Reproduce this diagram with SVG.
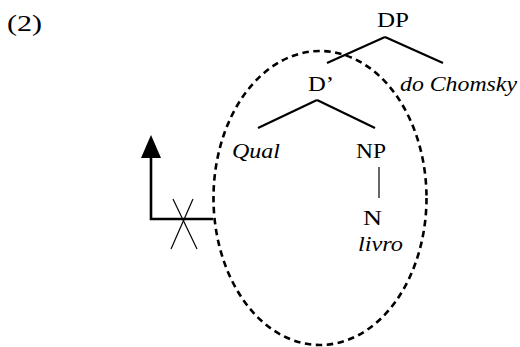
<svg xmlns="http://www.w3.org/2000/svg" width="520" height="347" viewBox="0 0 520 347">
<style>
text{font-family:"Liberation Serif","Times New Roman",serif;font-size:20px;fill:#000}
.it{font-style:italic}
.br{stroke:#000;stroke-width:2.2;fill:none;stroke-linecap:butt}
.thin{stroke:#000;stroke-width:1.2;fill:none}
.dash{stroke:#000;stroke-width:2.6;fill:none;stroke-dasharray:6.5 4.5}
</style>
<rect width="520" height="347" fill="#fff"/>
<text x="7" y="31" style="font-size:23px" textLength="35" lengthAdjust="spacingAndGlyphs">(2)</text>
<g id="connectors">
<line class="br" x1="385" y1="37" x2="327" y2="63"/>
<line class="br" x1="385" y1="37" x2="443" y2="63"/>
<line class="br" x1="317" y1="100" x2="258" y2="128"/>
<line class="br" x1="317" y1="100" x2="375" y2="128"/>
<line class="thin" x1="379" y1="167" x2="379" y2="198"/>
<polyline class="br" points="213,219 151,219 151,155" style="stroke-width:2.6"/>
<path d="M141,158 L151,135 L161,158 Z" fill="#000"/>
<line class="thin" x1="173" y1="199" x2="197" y2="249"/>
<line class="thin" x1="193" y1="199" x2="171" y2="249"/>
</g>
<g id="ellipse"><ellipse class="dash" cx="320" cy="198" rx="106.5" ry="147"/></g>
<g id="DP"><text x="377" y="27" textLength="32" lengthAdjust="spacingAndGlyphs">DP</text></g>
<g id="Dbar"><text x="308" y="91" textLength="26" lengthAdjust="spacingAndGlyphs">D’</text></g>
<g id="doChomsky"><text class="it" x="400" y="91" textLength="117" lengthAdjust="spacingAndGlyphs">do Chomsky</text></g>
<g id="Qual"><text class="it" x="232" y="158" textLength="48" lengthAdjust="spacingAndGlyphs">Qual</text></g>
<g id="NP"><text x="356" y="158" textLength="30" lengthAdjust="spacingAndGlyphs">NP</text></g>
<g id="N"><text x="363" y="225" textLength="19" lengthAdjust="spacingAndGlyphs">N</text></g>
<g id="livro"><text class="it" x="358" y="251" textLength="45" lengthAdjust="spacingAndGlyphs">livro</text></g>
</svg>
